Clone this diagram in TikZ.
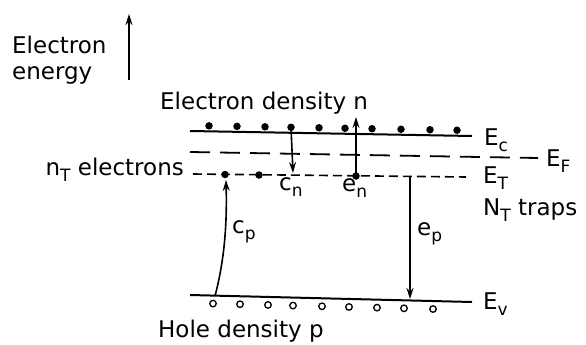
\documentclass[tikz,border=0pt]{standalone}
\usepackage{fontspec}
\setmainfont{DejaVu Sans}
\usetikzlibrary{arrows.meta}
\newcommand\lsub[1]{\raisebox{-6pt}{\fontsize{17}{17}\selectfont #1}}
\tikzset{
  lbl/.style={inner sep=0pt, font=\fontsize{23}{26}\selectfont},
  band/.style={line width=2pt},
  fermi/.style={line width=1.8pt, dash pattern=on 20pt off 10pt},
  trapline/.style={line width=1.6pt, dash pattern=on 9pt off 5pt},
  edot/.style={circle, fill=black, inner sep=0pt, minimum size=7.5pt},
  hole/.style={circle, draw=black, line width=1.3pt, inner sep=0pt, minimum size=6.5pt},
  trans/.style={line width=1.6pt, -{Stealth[length=11pt, width=7pt]}},
}
\begin{document}
\begin{tikzpicture}[x=1pt, y=-1pt]
\useasboundingbox (0,0) rectangle (586,345);

% energy axis
\coordinate (ea0) at (129,80);
\coordinate (ea1) at (129,14);
\draw[trans] (ea0) -- (ea1);
\node[lbl, anchor=base west] (el1) at (12,53) {Electron};
\node[lbl, anchor=base west] (el2) at (12,79) {energy};

% top label
\node[lbl, anchor=base west] (nlab) at (160,109) {Electron density n};

% bands
\coordinate (ec0) at (190,131);
\coordinate (ec1) at (472,136);
\draw[band] (ec0) -- (ec1);
\coordinate (ef0) at (190,152);
\coordinate (ef1) at (538,158);
\draw[fermi] (ef0) -- (ef1);
\coordinate (et0) at (193,174);
\coordinate (et1) at (466,177);
\draw[trapline] (et0) -- (et1);
\coordinate (ev0) at (190,295);
\coordinate (ev1) at (472,302);
\draw[band] (ev0) -- (ev1);

% electrons in conduction band
\foreach \x [count=\i] in {209,237,265,291,319,345,372,401,430,457}{
  \node[edot] (e\i) at (\x,{131+(\x-190)*5/282-5.5}) {};
}
% holes in valence band
\foreach \x [count=\i] in {213,240,268,293,322,349,377,404,433}{
  \node[hole] (h\i) at (\x,{295+(\x-190)*7/282+8}) {};
}
% traps
\node[edot] (t1) at (225,174.5) {};
\node[edot] (t2) at (259,175) {};
\node[edot] (t3) at (356,176) {};

% transitions
\coordinate (cnend) at (293,173);
\draw[trans] (e4.center) -- (cnend);
\coordinate (entop) at (356,117);
\draw[trans] (t3.center) -- (entop);
\coordinate (ep0) at (410,177);
\coordinate (ep1) at (410,299);
\draw[trans] (ep0) -- (ep1);
\coordinate (cp0) at (215,296);
\coordinate (cp1) at (226,180);
\draw[trans] (cp0) .. controls (225,258) and (227,222) .. (cp1);

% transition labels
\node[lbl, anchor=base west] (cnl) at (279,190) {c\lsub{n}};
\node[lbl, anchor=base west] (enl) at (342,191) {e\lsub{n}};
\node[lbl, anchor=base west] (epl) at (417,235) {e\lsub{p}};
\node[lbl, anchor=base west] (cpl) at (232,233) {c\lsub{p}};

% level labels
\node[lbl, anchor=base west] (ecl) at (484,145) {E\lsub{c}};
\node[lbl, anchor=base west] (efl) at (546,166) {E\lsub{F}};
\node[lbl, anchor=base west] (etl) at (483,183) {E\lsub{T}};
\node[lbl, anchor=base west] (ntl) at (483,215) {N\lsub{T} traps};
\node[lbl, anchor=base west] (evl) at (483,309) {E\lsub{v}};
\node[lbl, anchor=base east] (nel) at (184,175) {n\lsub{T} electrons};
\node[lbl, anchor=base west] (pl) at (158,337) {Hole density p};
\end{tikzpicture}
\end{document}
